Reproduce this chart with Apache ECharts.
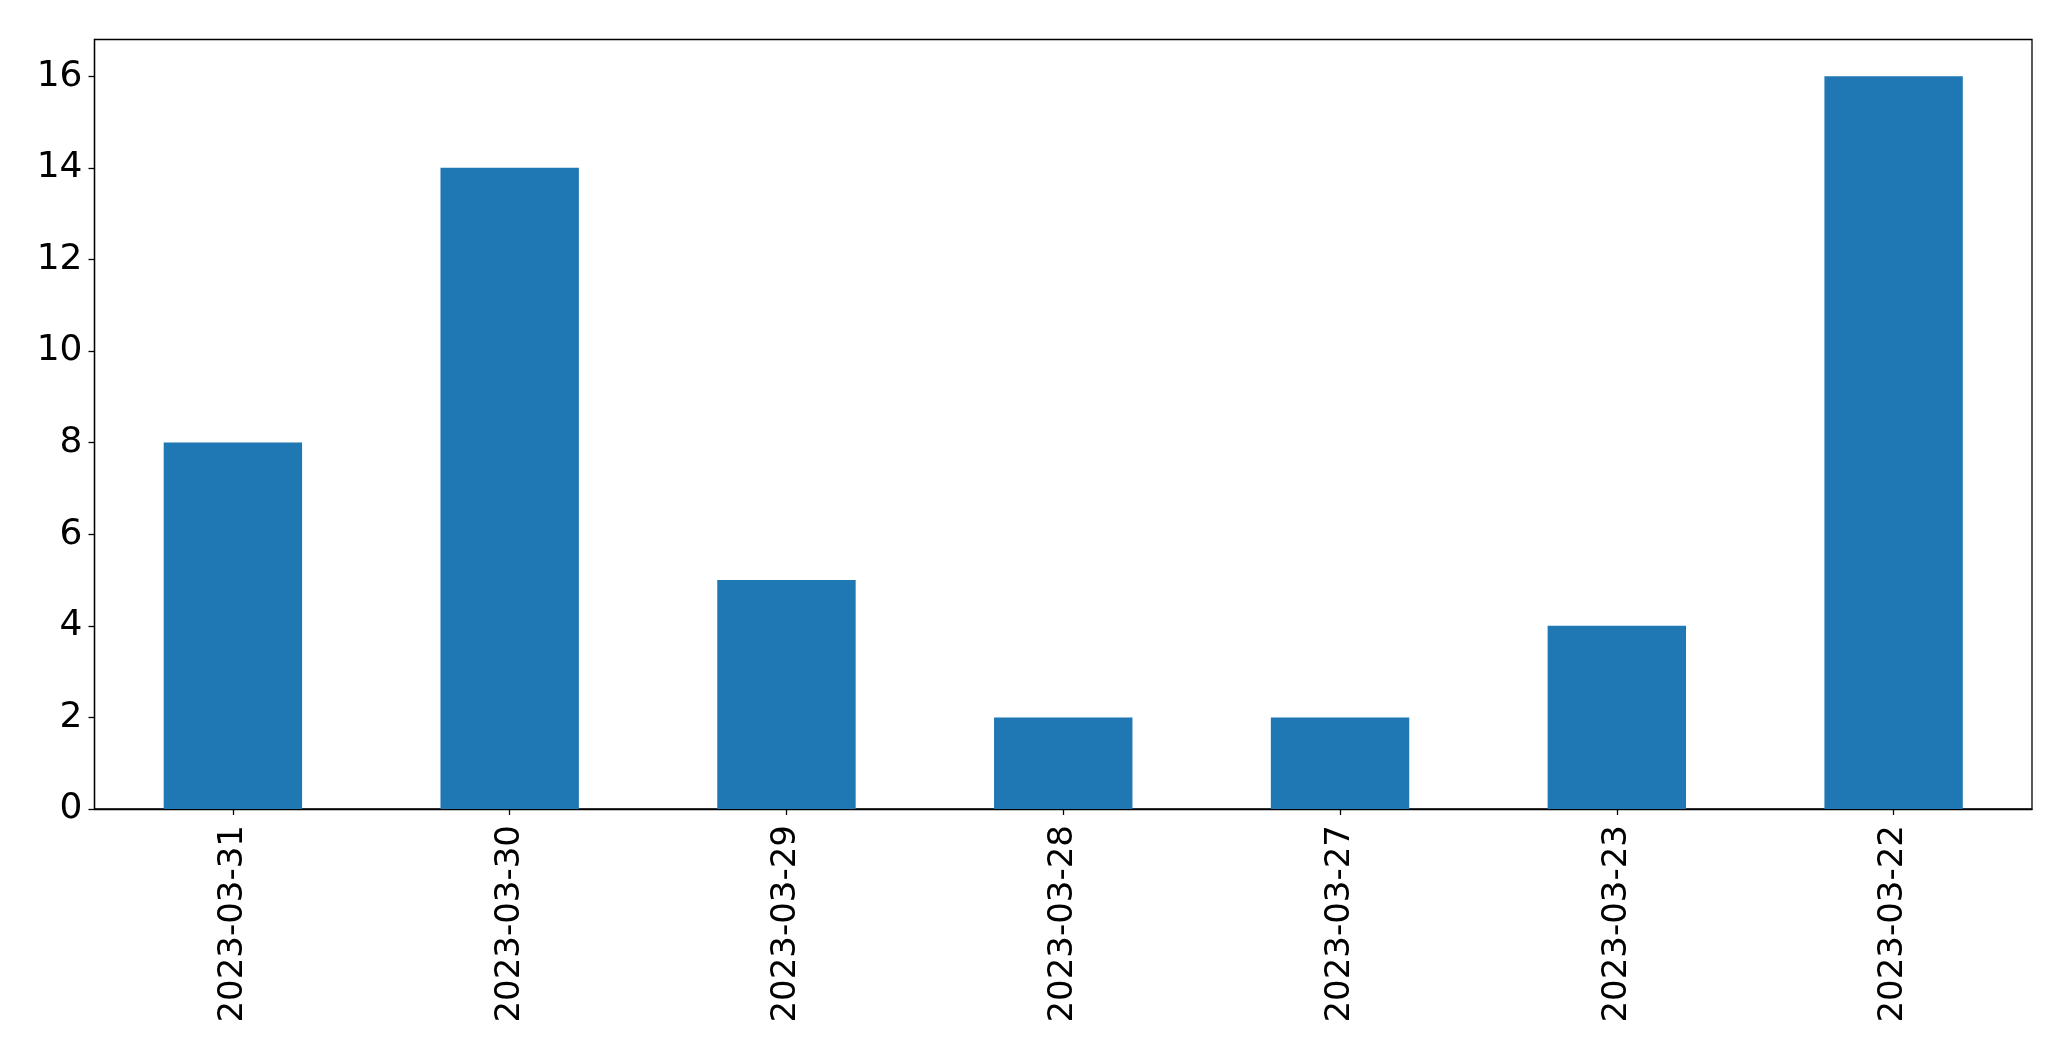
<!DOCTYPE html>
<html>
<head>
<meta charset="utf-8">
<script src="https://cdn.jsdelivr.net/npm/echarts@6/dist/echarts.min.js"></script>
<style>html,body{margin:0;padding:0;background:#fff;}#c{width:2071px;height:1061px;}</style>
</head>
<body>
<div id="c"></div>
<script>
const categories = ["2023-03-31","2023-03-30","2023-03-29","2023-03-28","2023-03-27","2023-03-23","2023-03-22"];
const values = [8, 14, 5, 2, 2, 4, 16];
const yTicks = [0, 2, 4, 6, 8, 10, 12, 14, 16];

const chart = echarts.init(document.getElementById('c'));
const font = "'DejaVu Sans', sans-serif";
chart.setOption({
  animation: false,
  backgroundColor: '#ffffff',
  grid: {
    left: 94.5, right: 39, top: 39.5, bottom: 252,
    show: true, borderColor: '#000', borderWidth: 1.3, backgroundColor: 'transparent'
  },
  xAxis: {
    type: 'category',
    data: categories,
    boundaryGap: true,
    axisLine: { show: true, lineStyle: { color: '#000', width: 1.3 } },
    axisTick: { show: true, alignWithLabel: true, length: 6, lineStyle: { color: '#000', width: 1.3 } },
    axisLabel: { rotate: 90, margin: 16, color: '#000', fontSize: 34, fontFamily: font, interval: 0 },
    splitLine: { show: false }
  },
  yAxis: {
    type: 'value',
    min: 0, max: 16.8, interval: 2,
    axisLine: { show: true, lineStyle: { color: '#000', width: 1.3 } },
    axisTick: { show: true, length: 6, lineStyle: { color: '#000', width: 1.3 } },
    axisLabel: {
      color: '#000', fontSize: 36, fontFamily: font, margin: 12, showMaxLabel: false,
      formatter: v => yTicks.indexOf(v) >= 0 ? String(v) : ''
    },
    splitLine: { show: false }
  },
  series: [{
    type: 'bar',
    data: values,
    barWidth: '50%',
    itemStyle: { color: '#1f77b4' }
  }]
});
</script>
</body>
</html>
